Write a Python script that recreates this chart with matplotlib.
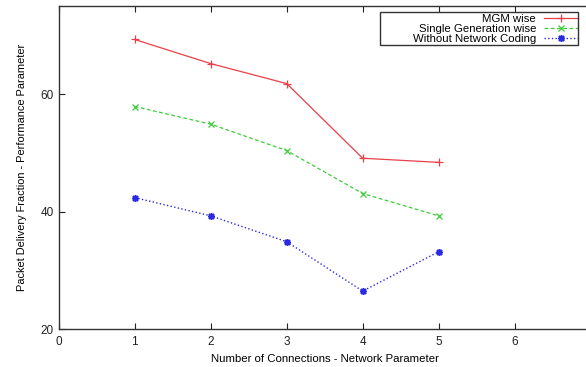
import matplotlib
matplotlib.use("Agg")
import matplotlib.pyplot as plt
from matplotlib.patches import Rectangle

plt.rcParams['font.family'] = ['Liberation Sans', 'DejaVu Sans']

connections = [1, 2, 3, 4, 5]
mgm = [69.3, 65.2, 61.8, 49.1, 48.4]
single_gen = [57.9, 54.9, 50.4, 43.1, 39.3]
no_coding = [42.4, 39.3, 34.9, 26.5, 33.2]

x_ticks = [0, 1, 2, 3, 4, 5, 6]
y_ticks = [20, 40, 60]

fig = plt.figure(figsize=(5.86, 3.67), dpi=100)
ax = fig.add_axes([0.1002, 0.1027, 0.9078, 0.881])

ax.plot(connections, mgm, '-', color='#e84048', lw=0.9, marker='+', ms=6, mew=0.9,
        label='MGM wise')
ax.plot(connections, single_gen, '--', color='#3ccc3c', lw=0.9, dashes=(3, 2),
        marker='x', ms=4.5, mew=0.9, label='Single Generation wise')
ax.plot(connections, no_coding, ':', color='#2a2ae0', lw=1.0, marker=(8, 2, 0), ms=5,
        mew=1.1, label='Without Network Coding')

ax.set_xlim(0, 7)
ax.set_ylim(20, 75)
ax.set_xticks(x_ticks)
ax.set_yticks(y_ticks)
ax.tick_params(direction='in', top=True, right=False, length=4, width=0.8,
               labelsize=8.5, colors='#222222')
ax.tick_params(axis='x', pad=5)
for s in ax.spines.values():
    s.set_color('#333333')
    s.set_linewidth(1.0)

ax.set_xlabel('Number of Connections - Network Parameter', fontsize=8.2, labelpad=4)
ax.set_ylabel('Packet Delivery Fraction - Performance Parameter', fontsize=7.9, labelpad=10)

# gnuplot-style key: right-aligned labels, sample lines on the right
leg = ax.legend(loc='center right', bbox_to_anchor=(0.987, 0.922), bbox_transform=fig.transFigure,
                markerfirst=False, fontsize=8.2, frameon=False,
                handlelength=3.0, borderpad=0, labelspacing=0.0, handletextpad=0.7,
                borderaxespad=0)
fig.patches.append(Rectangle((0.649, 0.8780), 0.337, 0.0895, transform=fig.transFigure,
                             fill=False, edgecolor='#333333', lw=1.0, figure=fig))

fig.savefig('out.png', dpi=100)
